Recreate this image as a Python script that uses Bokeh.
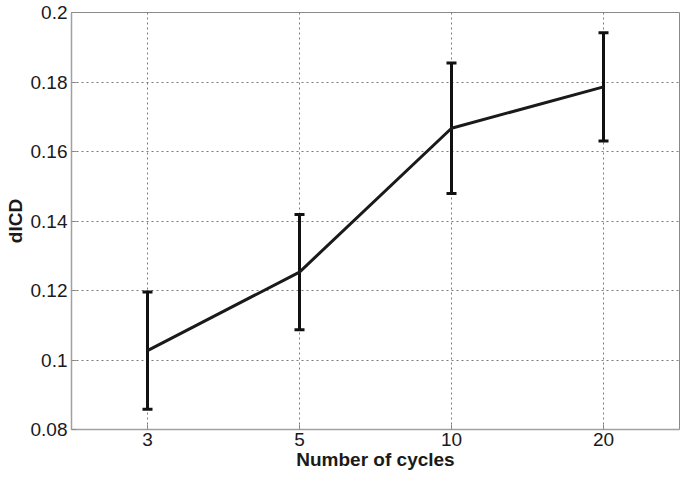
from bokeh.plotting import figure
from bokeh.models import (ColumnDataSource, FactorRange, Range1d, FixedTicker,
                          PrintfTickFormatter, Whisker, TeeHead)
from bokeh.embed import file_html
from bokeh.resources import INLINE

cycles = ["3", "5", "10", "20"]
dicd_mean = [0.1027, 0.1253, 0.1667, 0.1786]
dicd_err = [0.0169, 0.0166, 0.0188, 0.0156]
y_ticks = [0.08, 0.1, 0.12, 0.14, 0.16, 0.18, 0.2]

src = ColumnDataSource(dict(
    x=cycles, y=dicd_mean,
    lower=[m - e for m, e in zip(dicd_mean, dicd_err)],
    upper=[m + e for m, e in zip(dicd_mean, dicd_err)],
))

p = figure(width=686, height=478, output_backend="svg", toolbar_location=None,
           x_range=FactorRange(factors=cycles, range_padding=0),
           y_range=Range1d(0.08, 0.2),
           min_border_left=71, min_border_right=7, min_border_top=12,
           min_border_bottom=49)

p.line("x", "y", source=src, line_color="#1a1a1a", line_width=3)
w = Whisker(base="x", upper="upper", lower="lower", source=src,
            line_color="#111111", line_width=3,
            upper_head=TeeHead(size=10, line_width=3, line_color="#111111"),
            lower_head=TeeHead(size=10, line_width=3, line_color="#111111"))
p.add_layout(w)

font = "Liberation Sans"
p.outline_line_color = "#8a8a8a"
p.outline_line_width = 1
for ax in (p.xaxis[0], p.yaxis[0]):
    ax.axis_line_color = "#a0a0a0"
    ax.axis_line_width = 1.5
    ax.major_tick_line_color = "#8a8a8a"
    ax.major_tick_in = 5
    ax.major_tick_out = 0
    ax.minor_tick_line_color = None
    ax.major_label_text_font = font
    ax.major_label_text_font_size = "19px"
    ax.major_label_text_color = "#1a1a1a"
    ax.axis_label_text_font = font
    ax.axis_label_text_font_size = "19px"
    ax.axis_label_text_font_style = "bold"
    ax.axis_label_text_color = "#1a1a1a"

p.xaxis.axis_label = "Number of cycles"
p.xaxis.major_label_standoff = 3
p.xaxis.axis_label_standoff = 0
p.yaxis.axis_label = "dICD"
p.yaxis.ticker = FixedTicker(ticks=y_ticks)
p.yaxis.formatter = PrintfTickFormatter(format="%g")
p.yaxis.major_label_standoff = 4
p.yaxis.axis_label_standoff = 2

for g in (p.xgrid[0], p.ygrid[0]):
    g.grid_line_color = "#7a7a7a"
    g.grid_line_dash = "2 3"
    g.grid_line_width = 1
p.ygrid.ticker = FixedTicker(ticks=y_ticks)

open("out.html", "w").write(file_html(p, INLINE))
